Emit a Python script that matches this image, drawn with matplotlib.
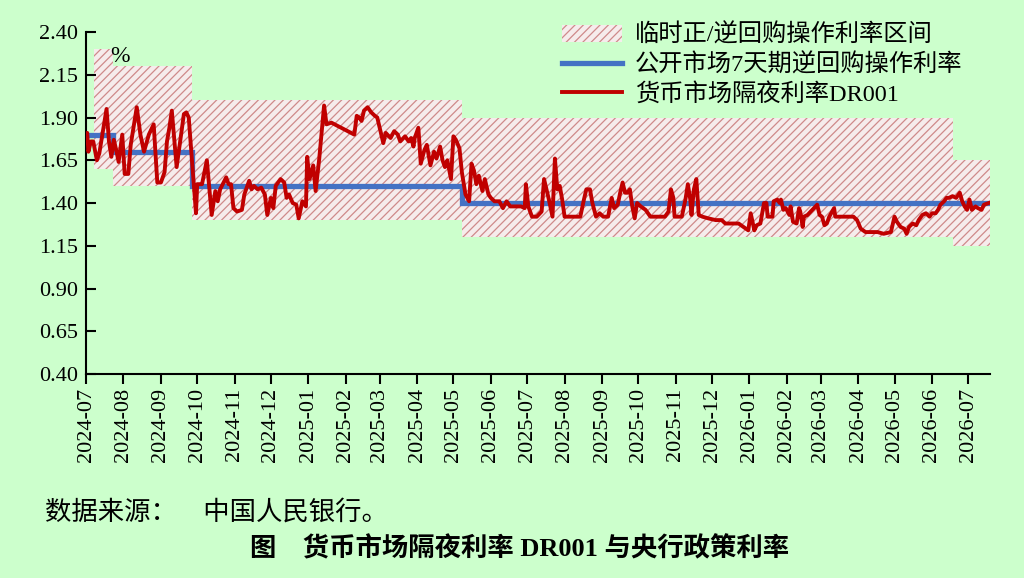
import matplotlib
matplotlib.use("Agg")
import matplotlib.pyplot as plt
import matplotlib.dates as mdates
from matplotlib.patches import Patch
from matplotlib.lines import Line2D
import pandas as pd
import numpy as np

# ---------------- data ----------------
origin = "2024-07-01"
end_day = 748  # last plotted day (days since origin)

# DR001 overnight rate: (days since 2024-07-01, %)
dr_days = [0, 1, 2, 4, 6, 9, 11, 17, 19, 21, 23, 25, 27, 30, 32, 35, 37, 42, 45, 48,
           52, 56, 59, 62, 65, 67, 69, 71, 75, 81, 83, 85, 91, 92, 96, 100, 104, 107, 109, 111,
           116, 118, 120, 122, 125, 129, 131, 135, 137, 139, 142, 145, 148, 150, 153, 155, 157, 161, 164, 166,
           168, 171, 174, 176, 179, 182, 183, 185, 188, 190, 193, 197, 199, 203, 222, 224, 226, 228, 230, 233,
           236, 239, 241, 246, 248, 252, 255, 258, 260, 264, 267, 269, 271, 272, 275, 277, 280, 282, 285, 288,
           290, 293, 295, 297, 299, 302, 304, 306, 309, 311, 314, 317, 319, 321, 323, 325, 328, 330, 333, 335,
           338, 342, 345, 348, 351, 356, 360, 363, 364, 366, 369, 373, 377, 379, 381, 383, 386, 388, 390, 392,
           394, 396, 409, 412, 414, 417, 419, 422, 425, 428, 432, 435, 437, 440, 442, 444, 446, 448, 450, 452,
           454, 456, 459, 463, 467, 479, 482, 484, 486, 487, 493, 496, 498, 500, 501, 503, 505, 507, 510, 515,
           521, 526, 529, 535, 540, 546, 548, 550, 553, 555, 558, 561, 563, 564, 568, 569, 572, 574, 575, 577,
           579, 582, 583, 585, 588, 590, 591, 593, 594, 597, 601, 605, 607, 609, 611, 613, 615, 619, 620, 624,
           635, 638, 641, 645, 649, 655, 660, 666, 669, 671, 674, 677, 679, 681, 684, 687, 689, 692, 695, 698,
           700, 703, 705, 707, 710, 712, 714, 717, 720, 723, 725, 727, 729, 731, 733, 736, 738, 741, 743, 747]
dr_rate = [1.78, 1.81, 1.70, 1.76, 1.76, 1.65, 1.69, 1.95, 1.76, 1.67, 1.77, 1.71, 1.64, 1.80, 1.57, 1.57, 1.74, 1.96, 1.80, 1.70,
           1.80, 1.86, 1.52, 1.52, 1.58, 1.76, 1.84, 1.94, 1.61, 1.92, 1.93, 1.90, 1.34, 1.51, 1.51, 1.65, 1.33, 1.47, 1.41, 1.48,
           1.55, 1.51, 1.51, 1.37, 1.35, 1.36, 1.45, 1.53, 1.48, 1.50, 1.48, 1.49, 1.45, 1.33, 1.43, 1.37, 1.50, 1.54, 1.52, 1.43,
           1.45, 1.40, 1.39, 1.31, 1.41, 1.38, 1.67, 1.54, 1.62, 1.47, 1.66, 1.97, 1.86, 1.87, 1.80, 1.91, 1.90, 1.88, 1.94, 1.96,
           1.93, 1.91, 1.90, 1.75, 1.81, 1.78, 1.82, 1.80, 1.76, 1.79, 1.76, 1.78, 1.73, 1.78, 1.84, 1.63, 1.71, 1.74, 1.62, 1.70,
           1.66, 1.73, 1.65, 1.61, 1.65, 1.54, 1.79, 1.77, 1.72, 1.58, 1.45, 1.41, 1.63, 1.59, 1.51, 1.56, 1.47, 1.54, 1.45, 1.43,
           1.41, 1.41, 1.37, 1.41, 1.38, 1.38, 1.38, 1.37, 1.51, 1.38, 1.32, 1.32, 1.35, 1.54, 1.48, 1.42, 1.32, 1.66, 1.48, 1.50,
           1.42, 1.32, 1.32, 1.42, 1.48, 1.48, 1.40, 1.32, 1.34, 1.32, 1.32, 1.43, 1.37, 1.39, 1.46, 1.52, 1.46, 1.46, 1.48, 1.38,
           1.31, 1.40, 1.38, 1.36, 1.32, 1.32, 1.35, 1.48, 1.43, 1.32, 1.32, 1.42, 1.51, 1.42, 1.33, 1.48, 1.54, 1.33, 1.32, 1.31,
           1.30, 1.30, 1.28, 1.28, 1.28, 1.25, 1.24, 1.34, 1.24, 1.27, 1.28, 1.40, 1.40, 1.32, 1.32, 1.41, 1.42, 1.40, 1.42, 1.36,
           1.37, 1.33, 1.38, 1.29, 1.28, 1.37, 1.35, 1.26, 1.32, 1.33, 1.36, 1.39, 1.33, 1.32, 1.27, 1.28, 1.32, 1.37, 1.32, 1.32,
           1.32, 1.30, 1.25, 1.23, 1.23, 1.23, 1.22, 1.23, 1.32, 1.29, 1.26, 1.25, 1.22, 1.26, 1.28, 1.27, 1.30, 1.33, 1.34, 1.32,
           1.34, 1.34, 1.36, 1.39, 1.41, 1.43, 1.43, 1.44, 1.43, 1.46, 1.41, 1.38, 1.36, 1.42, 1.36, 1.38, 1.37, 1.36, 1.39, 1.40]

# 7-day reverse repo policy rate (step changes)
policy_days = [0, 22, 88, 311]
policy_rate = [1.80, 1.70, 1.50, 1.40]

# temporary positive / reverse repo corridor (step changes)
band_days = [7, 22, 88, 311, 717]
band_upper = [2.30, 2.20, 2.00, 1.90, 1.65]
band_lower = [1.60, 1.50, 1.30, 1.20, 1.15]

yticks = [0.40, 0.65, 0.90, 1.15, 1.40, 1.65, 1.90, 2.15, 2.40]

legend_labels = ["临时正/逆回购操作利率区间", "公开市场7天期逆回购操作利率", "货币市场隔夜利率DR001"]
source_text = "数据来源：\u3000中国人民银行。"
title_text = "图\u3000货币市场隔夜利率 DR001 与央行政策利率"

# ---------------- helpers ----------------
t0 = pd.Timestamp(origin)
def to_dates(days):
    return t0 + pd.to_timedelta(np.asarray(days, dtype=float), unit="D")

BG = "#ccffcc"
RED = "#c00000"
BLUE = "#4472c4"
HATCH = "#cf8a8a"
BANDFACE = "#f6ecec"

plt.rcParams["hatch.linewidth"] = 0.9
serif_cjk = ["Liberation Serif", "Noto Sans CJK SC"]

fig = plt.figure(figsize=(10.24, 5.78), dpi=100, facecolor=BG)
ax = fig.add_axes([86/1024, 1-374/578, (990-86)/1024, (374-32)/578])
ax.set_facecolor(BG)

# band
bx = to_dates(band_days + [end_day])
bu = band_upper + [band_upper[-1]]
bl = band_lower + [band_lower[-1]]
ax.fill_between(bx, bl, bu, step="post", facecolor=BANDFACE, edgecolor=HATCH,
                hatch="////", linewidth=0, zorder=1)

# policy rate
px = to_dates(policy_days + [end_day])
py = policy_rate + [policy_rate[-1]]
ax.step(px, py, where="post", color=BLUE, lw=3.8, zorder=2, solid_joinstyle="miter")

# DR001
ax.plot(to_dates(dr_days), dr_rate, color=RED, lw=2.8, zorder=3)

# axes
ax.set_ylim(0.40, 2.40)
ax.set_yticks(yticks)
ax.set_yticklabels([f"{v:.2f}" for v in yticks], fontfamily="Liberation Serif", fontsize=16)
ax.set_xlim(to_dates([0])[0], to_dates([end_day])[0])
ax.xaxis.set_major_locator(mdates.MonthLocator())
ax.xaxis.set_major_formatter(mdates.DateFormatter("%Y-%m"))
for lab in ax.get_xticklabels():
    lab.set_rotation(90)
    lab.set_fontfamily("Liberation Serif")
    lab.set_fontsize(16)
ax.tick_params(axis="y", direction="in", length=7, width=1.5, pad=6)
ax.tick_params(axis="x", direction="out", length=7, width=1.5, pad=3)
for s in ["top", "right"]:
    ax.spines[s].set_visible(False)
for s in ["left", "bottom"]:
    ax.spines[s].set_linewidth(1.5)

ax.text((120-86)/904, (374-57)/342, "%", transform=ax.transAxes, ha="center", va="center",
        fontfamily="Liberation Serif", fontsize=17)

# legend
handles = [Patch(facecolor=BANDFACE, edgecolor=HATCH, hatch="////", linewidth=0),
           Line2D([], [], color=BLUE, lw=3.8),
           Line2D([], [], color=RED, lw=2.8)]
leg = fig.legend(handles, legend_labels, loc="upper left", bbox_to_anchor=(552/1024, 1-14/578),
                 frameon=False, prop={"family": serif_cjk, "size": 17.5},
                 handlelength=2.5, handletextpad=0.5, labelspacing=0.25, borderaxespad=0)

fig.text(45/1024, 1-512/578, source_text, ha="left", va="center", fontfamily=serif_cjk, fontsize=19)
fig.text(520/1024, 1-549/578, title_text, ha="center", va="center", fontfamily=serif_cjk,
         fontsize=19, fontweight="bold")

fig.savefig("out.png", dpi=100, facecolor=BG)
